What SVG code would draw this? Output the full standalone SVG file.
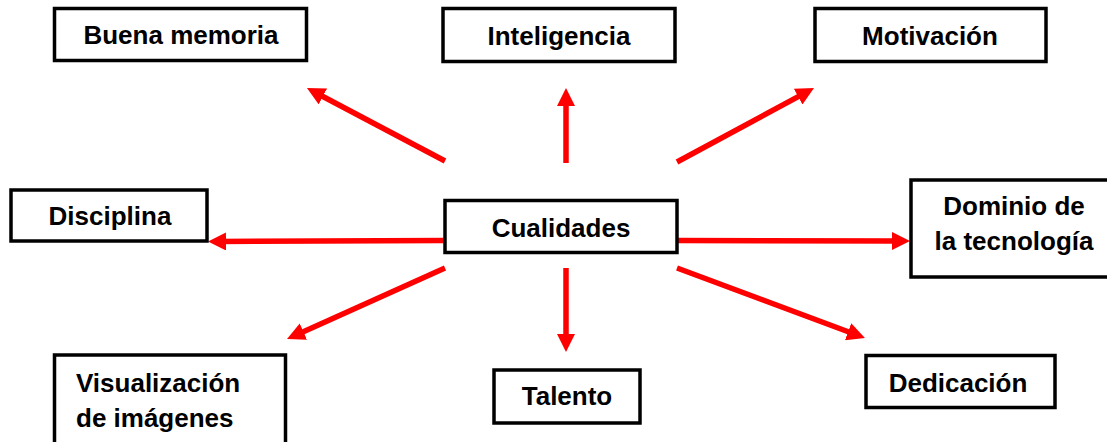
<svg xmlns="http://www.w3.org/2000/svg" width="1107" height="442" viewBox="0 0 1107 442">
<style>
.box{fill:#fff;stroke:#000;stroke-width:3.5}
.t{font-family:"Liberation Sans",Arial,sans-serif;font-weight:bold;font-size:26px;fill:#000;text-anchor:middle}
.tl{text-anchor:start}
.c{stroke:#ff0000;stroke-width:5.5;fill:none;marker-end:url(#ah)}
</style>
<defs>
<marker id="ah" viewBox="0 0 18 18" refX="8" refY="9" markerWidth="18" markerHeight="18" markerUnits="userSpaceOnUse" orient="auto">
<path d="M0,0 L18,9 L0,18 z" fill="#ff0000"/>
</marker>
</defs>
<rect width="1107" height="442" fill="#fff"/>
<g id="connectors">
<line class="c" x1="445" y1="161" x2="315.8" y2="92.7"/>
<line class="c" x1="566" y1="163" x2="566" y2="98"/>
<line class="c" x1="677" y1="162" x2="805.2" y2="92.8"/>
<line class="c" x1="445" y1="240.5" x2="218" y2="241.5"/>
<line class="c" x1="677" y1="240.5" x2="900" y2="241"/>
<line class="c" x1="445" y1="268" x2="296.1" y2="334.9"/>
<line class="c" x1="566" y1="268" x2="566" y2="342"/>
<line class="c" x1="677" y1="268" x2="855.6" y2="334.5"/>
</g>
<g id="cualidades">
<rect class="box" x="445" y="200.5" width="232" height="52"/>
<text class="t" x="561" y="237">Cualidades</text>
</g>
<g id="buena-memoria">
<rect class="box" x="54.5" y="8.5" width="252" height="52"/>
<text class="t" x="181" y="44">Buena memoria</text>
</g>
<g id="inteligencia">
<rect class="box" x="443" y="8.5" width="232" height="53"/>
<text class="t" x="559" y="45">Inteligencia</text>
</g>
<g id="motivacion">
<rect class="box" x="815" y="8.5" width="231" height="53"/>
<text class="t" x="930" y="45">Motivación</text>
</g>
<g id="disciplina">
<rect class="box" x="11" y="190" width="196" height="51"/>
<text class="t" x="110" y="225">Disciplina</text>
</g>
<g id="dominio">
<rect class="box" x="911" y="180" width="200" height="97"/>
<text class="t" x="1014" y="215">Dominio de</text>
<text class="t" x="1014" y="250">la tecnología</text>
</g>
<g id="visualizacion">
<rect class="box" x="54.5" y="355" width="231" height="100"/>
<text class="t tl" x="76" y="392">Visualización</text>
<text class="t tl" x="76" y="427">de imágenes</text>
</g>
<g id="talento">
<rect class="box" x="494" y="370" width="146" height="53"/>
<text class="t" x="567" y="405">Talento</text>
</g>
<g id="dedicacion">
<rect class="box" x="866" y="355.5" width="189" height="52"/>
<text class="t" x="958" y="392">Dedicación</text>
</g>
</svg>
